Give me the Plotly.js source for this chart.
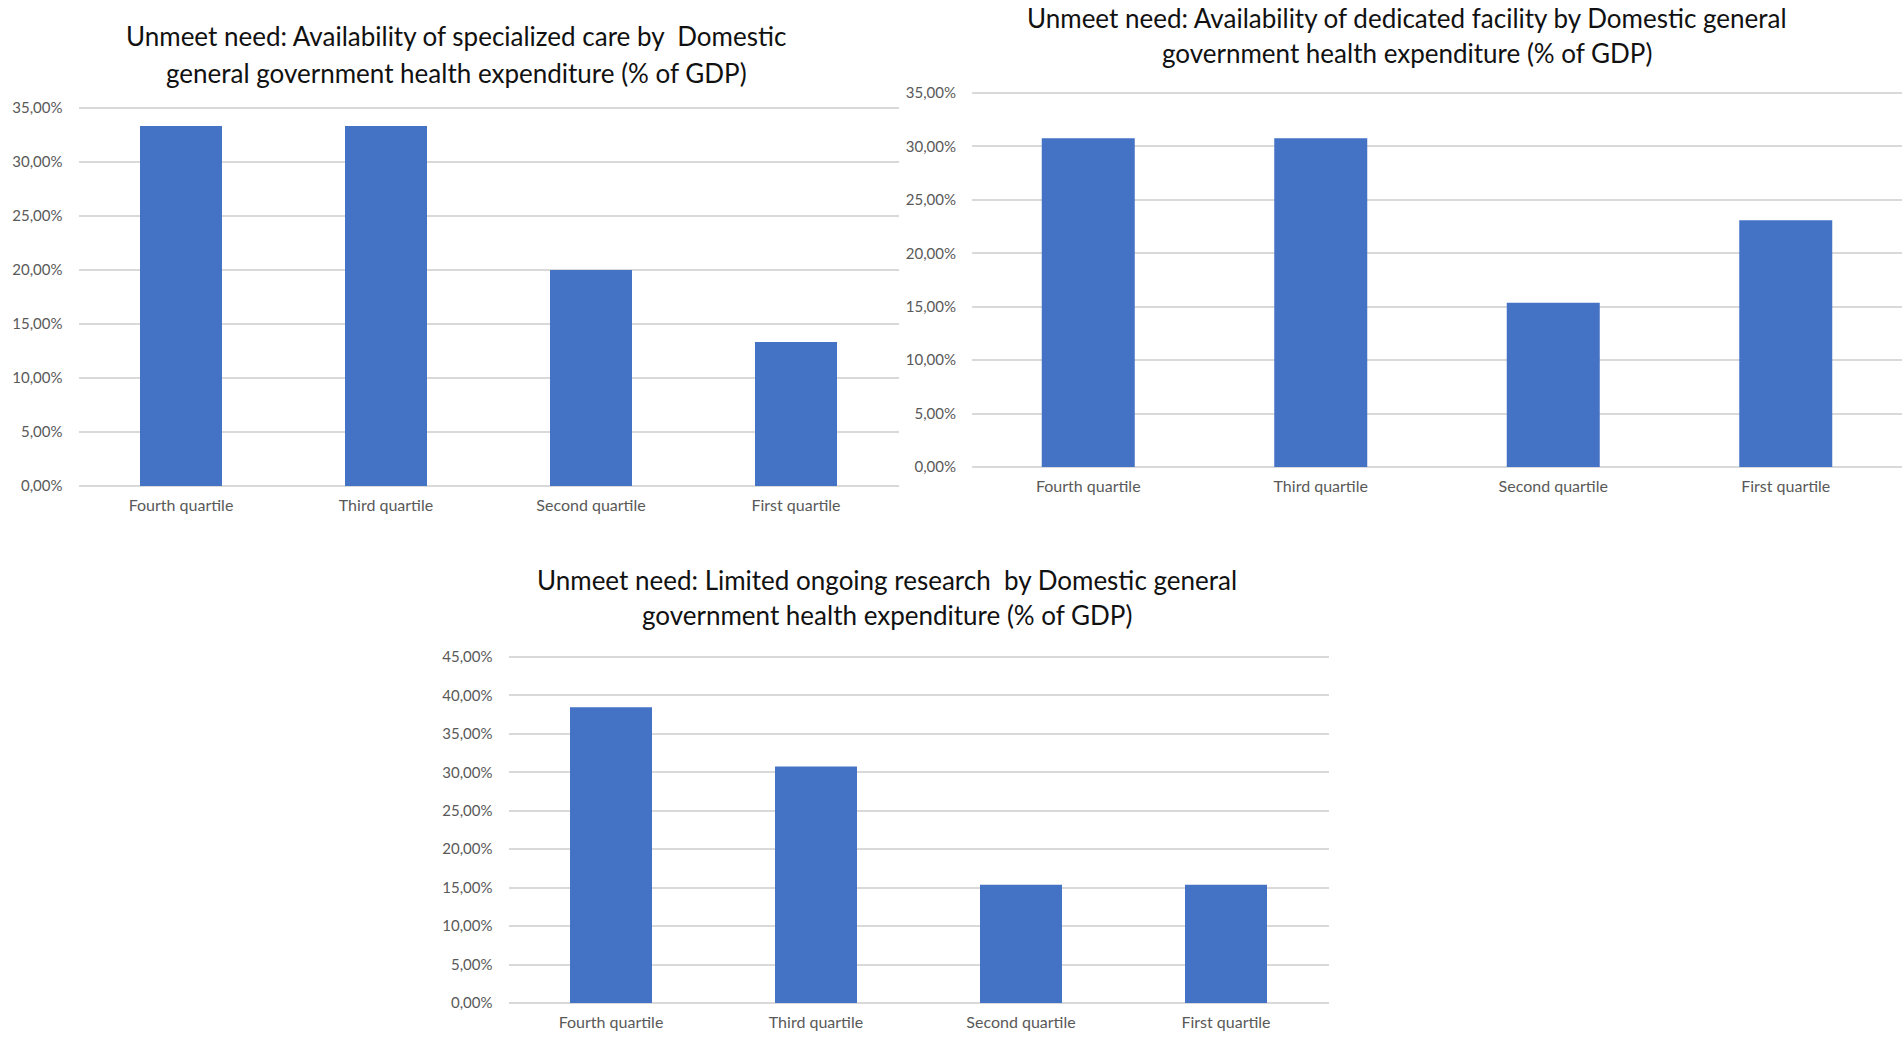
<!DOCTYPE html>
<html>
<head>
<meta charset="utf-8">
<script src="https://cdn.plot.ly/plotly-3.0.1.min.js"></script>
<style>
  html, body { margin: 0; padding: 0; background: #ffffff; }
  #chart { width: 1902px; height: 1044px; }
</style>
</head>
<body>
<div id="chart"></div>
<script>
// Categories (x axis)
const categories = ['Fourth quartile', 'Third quartile', 'Second quartile', 'First quartile'];

// Series values (% of respondents)
const specializedCare = [33.33, 33.33, 20.00, 13.33];
const dedicatedFacility = [30.77, 30.77, 15.38, 23.08];
const ongoingResearch = [38.46, 30.77, 15.38, 15.38];

// Titles (split into two lines each)
const title1 = ['Unmeet need: Availability of specialized care by  Domestic', 'general government health expenditure (% of GDP)'];
const title2 = ['Unmeet need: Availability of dedicated facility by Domestic general', 'government health expenditure (% of GDP)'];
const title3 = ['Unmeet need: Limited ongoing research  by Domestic general', 'government health expenditure (% of GDP)'];

const BAR = '#4472C4';
const FONT = 'Lato, "Open Sans", sans-serif';
const W = 1902, H = 1044;

function bar(y, xa, ya) {
  return {
    type: 'bar', x: categories, y: y, xaxis: xa, yaxis: ya,
    marker: { color: BAR, line: { width: 0 } },
    hoverinfo: 'x+y', showlegend: false
  };
}

const data = [
  bar(specializedCare, 'x', 'y'),
  bar(dedicatedFacility, 'x2', 'y2'),
  bar(ongoingResearch, 'x3', 'y3')
];

function xax(domain, anchor) {
  return {
    domain: domain, anchor: anchor, type: 'category',
    range: [-0.5, 3.5], fixedrange: true,
    showgrid: false, zeroline: false, showline: false, ticks: '',
    ticklabelstandoff: 4,
    tickfont: { family: FONT, size: 16, color: '#595959' }
  };
}
// domain given in pixel rows of the 0 and max gridlines; extended by 4px each side
function yax(bottomPix, topPix, anchor, max) {
  const extra = 4;
  const perPix = max / (bottomPix - topPix);
  const pad = extra * perPix;
  return {
    domain: [py(bottomPix + extra), py(topPix - extra)], anchor: anchor,
    range: [-pad, max + pad], dtick: 5, tick0: 0,
    fixedrange: true, tickformat: '.2f', ticksuffix: '%',
    showgrid: true, gridcolor: '#d9d9d9', gridwidth: 2,
    zeroline: false, showline: false, ticks: '',
    ticklabelstandoff: 15,
    tickfont: { family: FONT, size: 15, color: '#595959' }
  };
}

function py(pix) { return 1 - pix / H; }
function px(pix) { return pix / W; }

function titleLines(lines, cx, y1, y2) {
  return lines.map((t, i) => ({
    text: t, xref: 'paper', yref: 'paper',
    x: px(cx), y: py(i === 0 ? y1 : y2),
    xanchor: 'center', yanchor: 'middle', showarrow: false,
    font: { family: FONT, size: 26, color: '#111111' }
  }));
}

const layout = {
  width: W, height: H,
  margin: { l: 0, r: 0, t: 0, b: 0, pad: 0 },
  paper_bgcolor: '#ffffff', plot_bgcolor: '#ffffff',
  separators: ', ',
  bargap: 0.6,
  showlegend: false,
  xaxis: xax([px(78.5), px(898.5)], 'y'),
  yaxis: yax(486, 108, 'x', 35),
  xaxis2: xax([px(972), 1], 'y2'),
  yaxis2: yax(467, 93, 'x2', 35),
  xaxis3: xax([px(508.5), px(1328.5)], 'y3'),
  yaxis3: yax(1003, 657, 'x3', 45),
  annotations: [].concat(
    titleLines(title1, 456, 36, 73),
    titleLines(title2, 1407, 18, 53),
    titleLines(title3, 887, 580, 615)
  )
};

Plotly.newPlot('chart', data, layout, { displayModeBar: false, staticPlot: true });
</script>
</body>
</html>
